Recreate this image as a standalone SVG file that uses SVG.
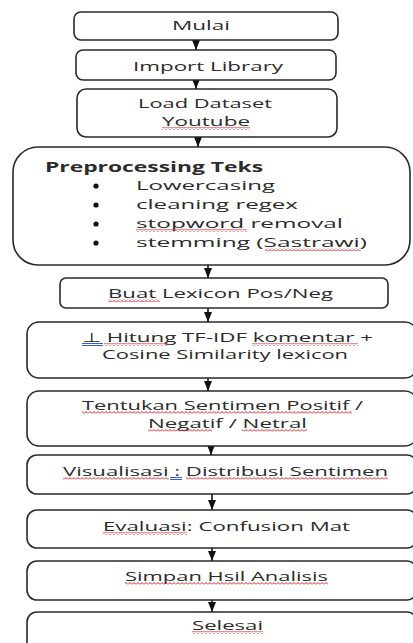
<svg xmlns="http://www.w3.org/2000/svg" width="413" height="643" viewBox="0 0 413 643">
<style>
.box{fill:#fff;stroke:#2a2a2a;stroke-width:1.6}
.t{font-family:"Open Sans","Liberation Sans",sans-serif;font-size:13px;fill:#2b2b2b}
.b{font-weight:bold;font-size:13.5px}
.sq{fill:url(#squig)}
.gl{stroke:#3a5fcd;stroke-width:1}
.c{stroke:#111;stroke-width:1.6;fill:none;marker-end:url(#ah)}
</style>
<defs>
<pattern id="squig" width="4" height="3" patternUnits="userSpaceOnUse">
<path d="M0,2.5 L2,0.5 L4,2.5" fill="none" stroke="#d62020" stroke-width="1"/>
</pattern>
<marker id="ah" viewBox="0 0 10 8" refX="10" refY="4" markerWidth="10" markerHeight="8" markerUnits="userSpaceOnUse" orient="auto">
<path d="M0,0 L10,4 L0,8 z" fill="#111"/>
</marker>
</defs>

<g id="connectors">
<line class="c" x1="196" y1="40" x2="196" y2="50"/>
<line class="c" x1="196" y1="80" x2="196" y2="89"/>
<line class="c" x1="198" y1="137" x2="198" y2="147"/>
<line class="c" x1="208" y1="265" x2="208" y2="278"/>
<line class="c" x1="208" y1="308" x2="208" y2="322"/>
<line class="c" x1="208" y1="378" x2="208" y2="391"/>
<line class="c" x1="211" y1="446" x2="211" y2="455"/>
<line class="c" x1="212" y1="494" x2="212" y2="510"/>
<line class="c" x1="212" y1="548" x2="212" y2="561"/>
<line class="c" x1="212" y1="600" x2="212" y2="612"/>
</g>

<g id="mulai">
<rect class="box" x="74" y="12" width="264" height="28" rx="7"/>
<text class="t" x="172" y="30" textLength="58" lengthAdjust="spacingAndGlyphs">Mulai</text>
</g>

<g id="import">
<rect class="box" x="76" y="50" width="260" height="30" rx="7"/>
<text class="t" x="133" y="71" textLength="150" lengthAdjust="spacingAndGlyphs">Import Library</text>
</g>

<g id="load">
<rect class="box" x="77" y="89" width="260" height="48" rx="9"/>
<text class="t" x="138" y="108" textLength="134" lengthAdjust="spacingAndGlyphs">Load Dataset</text>
<text class="t" x="162" y="126" textLength="88" lengthAdjust="spacingAndGlyphs">Youtube</text>
<rect class="sq" x="162" y="127" width="88" height="3"/>
</g>

<g id="preprocessing">
<rect class="box" x="13" y="147" width="397" height="118" rx="25"/>
<text class="t b" x="45" y="172" textLength="218" lengthAdjust="spacingAndGlyphs">Preprocessing Teks</text>
<circle cx="96" cy="186" r="2.6" fill="#111"/>
<circle cx="96" cy="205" r="2.6" fill="#111"/>
<circle cx="96" cy="224" r="2.6" fill="#111"/>
<circle cx="96" cy="243" r="2.6" fill="#111"/>
<text class="t" x="136" y="190" textLength="139" lengthAdjust="spacingAndGlyphs">Lowercasing</text>
<text class="t" x="136" y="209" textLength="162" lengthAdjust="spacingAndGlyphs">cleaning regex</text>
<text class="t" x="136" y="228" textLength="207" lengthAdjust="spacingAndGlyphs">stopword removal</text>
<text class="t" x="136" y="247" textLength="231" lengthAdjust="spacingAndGlyphs">stemming (Sastrawi)</text>
<rect class="sq" x="136" y="229" width="111" height="3"/>
<rect class="sq" x="265" y="248" width="96" height="3"/>
</g>

<g id="lexicon">
<rect class="box" x="60" y="278" width="328" height="30" rx="6"/>
<text class="t" x="108" y="298" textLength="225" lengthAdjust="spacingAndGlyphs">Buat Lexicon Pos/Neg</text>
<rect class="sq" x="108" y="299" width="52" height="3"/>
</g>

<g id="tfidf">
<rect class="box" x="27" y="322" width="390" height="56" rx="12"/>
<text class="t" x="82" y="342" textLength="291" lengthAdjust="spacingAndGlyphs">⊥ Hitung TF-IDF komentar +</text>
<text class="t" x="102" y="359" textLength="246" lengthAdjust="spacingAndGlyphs">Cosine Similarity lexicon</text>
<line class="gl" x1="82" y1="343.5" x2="103" y2="343.5"/>
<line class="gl" x1="82" y1="345.5" x2="103" y2="345.5"/>
<rect class="sq" x="104" y="343" width="64" height="3"/>
<rect class="sq" x="252" y="343" width="106" height="3"/>
</g>

<g id="sentimen">
<rect class="box" x="27" y="391" width="390" height="55" rx="12"/>
<text class="t" x="82" y="410" textLength="281" lengthAdjust="spacingAndGlyphs">Tentukan Sentimen Positif /</text>
<text class="t" x="148" y="428" textLength="159" lengthAdjust="spacingAndGlyphs">Negatif / Netral</text>
<rect class="sq" x="82" y="411" width="270" height="3"/>
<rect class="sq" x="148" y="429" width="64" height="3"/>
<rect class="sq" x="242" y="429" width="65" height="3"/>
</g>

<g id="visualisasi">
<rect class="box" x="27" y="455" width="390" height="39" rx="10"/>
<text class="t" x="63" y="476" textLength="325" lengthAdjust="spacingAndGlyphs">Visualisasi : Distribusi Sentimen</text>
<rect class="sq" x="63" y="477" width="106" height="3"/>
<line class="gl" x1="170" y1="477.5" x2="182" y2="477.5"/>
<line class="gl" x1="170" y1="479.5" x2="182" y2="479.5"/>
<rect class="sq" x="186" y="477" width="202" height="3"/>
</g>

<g id="evaluasi">
<rect class="box" x="27" y="510" width="390" height="38" rx="10"/>
<text class="t" x="103" y="531" textLength="247" lengthAdjust="spacingAndGlyphs">Evaluasi: Confusion Mat</text>
<rect class="sq" x="103" y="532" width="84" height="3"/>
</g>

<g id="simpan">
<rect class="box" x="27" y="561" width="390" height="39" rx="10"/>
<text class="t" x="125" y="581" textLength="203" lengthAdjust="spacingAndGlyphs">Simpan Hsil Analisis</text>
<rect class="sq" x="125" y="582" width="203" height="3"/>
</g>

<g id="selesai">
<rect class="box" x="27" y="612" width="390" height="48" rx="10"/>
<text class="t" x="192" y="630" textLength="71" lengthAdjust="spacingAndGlyphs">Selesai</text>
<rect class="sq" x="192" y="631" width="71" height="3"/>
</g>
</svg>
